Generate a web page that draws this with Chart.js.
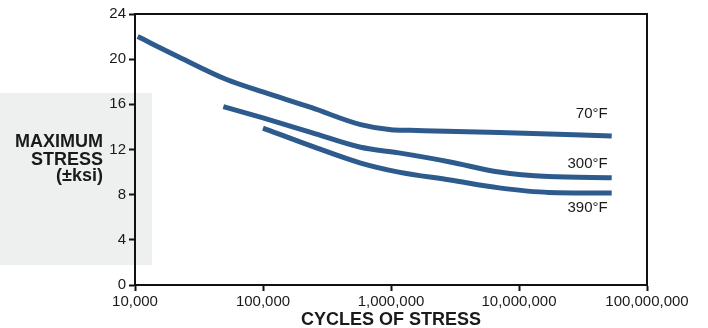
<!DOCTYPE html>
<html>
<head>
<meta charset="utf-8">
<script src="https://cdn.jsdelivr.net/npm/chart.js@4"></script>
<style>
  html, body { margin: 0; padding: 0; background: #fff; }
  #wrap { width: 708px; height: 328px; }
</style>
</head>
<body>
<div id="wrap"><canvas id="fatigue-chart" width="708" height="328"></canvas></div>
<script>
// cycles of stress (x) and maximum stress in ksi (y)
const cycles70 = [10500, 22000, 52000, 100000, 240000, 580000, 1000000, 1400000, 7000000, 53000000];
const stress70 = [22.0, 20.2, 18.2, 17.1, 15.7, 14.2, 13.75, 13.7, 13.5, 13.2];

const cycles300 = [49000, 100000, 240000, 580000, 1150000, 2900000, 7000000, 17000000, 53000000];
const stress300 = [15.8, 14.8, 13.5, 12.2, 11.7, 10.9, 10.0, 9.6, 9.5];

const cycles390 = [100000, 240000, 580000, 1150000, 2900000, 7000000, 17000000, 53000000];
const stress390 = [13.9, 12.3, 10.8, 10.0, 9.3, 8.6, 8.2, 8.15];

const seriesLabels = ['70°F', '300°F', '390°F'];
const xTicks = [10000, 100000, 1000000, 10000000, 100000000];
const yTicks = [0, 4, 8, 12, 16, 20, 24];
const yTitle = ['MAXIMUM', 'STRESS', '(±ksi)'];
const xTitle = 'CYCLES OF STRESS';

const lineColor = '#2e5b8d';
const inkColor = '#1a1a1a';

function toPoints(xs, ys) {
    return xs.map((x, i) => ({ x: x, y: ys[i] }));
}

function makeSet(label, xs, ys) {
    return {
        label: label,
        data: toPoints(xs, ys),
        borderColor: lineColor,
        borderWidth: 5,
        borderCapStyle: 'butt',
        pointRadius: 0,
        fill: false,
        cubicInterpolationMode: 'monotone'
    };
}

// grey panel behind the y title, and top/right frame lines
const decorPlugin = {
    id: 'decor',
    beforeDraw(chart) {
        const ctx = chart.ctx;
        ctx.save();
        ctx.fillStyle = '#eef0ef';
        ctx.fillRect(0, 93, 152, 172);
        ctx.restore();
    },
    afterDraw(chart) {
        const ctx = chart.ctx;
        const a = chart.chartArea;
        ctx.save();
        ctx.strokeStyle = '#111';
        ctx.lineWidth = 2;
        ctx.beginPath();
        ctx.moveTo(a.left, a.top);
        ctx.lineTo(a.right, a.top);
        ctx.lineTo(a.right, a.bottom);
        ctx.stroke();

        // y axis title, right aligned, not rotated
        ctx.fillStyle = inkColor;
        ctx.font = 'bold 18px "Liberation Sans", Arial, sans-serif';
        ctx.textAlign = 'right';
        ctx.textBaseline = 'middle';
        const centers = [142, 160, 176];
        yTitle.forEach((t, i) => ctx.fillText(t, 103, centers[i]));

        // temperature labels next to the end of each curve
        ctx.font = '15px "Liberation Sans", Arial, sans-serif';
        const offsets = [-22, -14, 15];
        chart.data.datasets.forEach((ds, i) => {
            const pts = chart.getDatasetMeta(i).data;
            const last = pts[pts.length - 1];
            ctx.fillText(seriesLabels[i], last.x - 4, last.y + offsets[i]);
        });
        ctx.restore();
    }
};

new Chart(document.getElementById('fatigue-chart'), {
    type: 'line',
    data: {
        datasets: [
            makeSet(seriesLabels[0], cycles70, stress70),
            makeSet(seriesLabels[1], cycles300, stress300),
            makeSet(seriesLabels[2], cycles390, stress390)
        ]
    },
    options: {
        responsive: false,
        animation: false,
        layout: { padding: { left: 0, right: 61, top: 14, bottom: 0 } },
        plugins: {
            legend: { display: false },
            tooltip: { enabled: false }
        },
        scales: {
            x: {
                type: 'logarithmic',
                min: xTicks[0],
                max: xTicks[xTicks.length - 1],
                afterBuildTicks: scale => {
                    scale.ticks = xTicks.map(v => ({ value: v }));
                },
                afterFit: scale => { scale.height = 43; },
                grid: { drawOnChartArea: false, drawTicks: true, tickLength: 6, tickWidth: 2, color: '#111' },
                border: { display: true, color: '#111', width: 2 },
                ticks: {
                    autoSkip: false,
                    maxRotation: 0,
                    padding: 2,
                    color: inkColor,
                    font: { family: '"Liberation Sans", Arial, sans-serif', size: 15 },
                    callback: v => Number(v).toLocaleString('en-US')
                },
                title: {
                    display: true,
                    text: xTitle,
                    color: inkColor,
                    padding: { top: 0, bottom: -3 },
                    font: { family: '"Liberation Sans", Arial, sans-serif', size: 18, weight: 'bold' }
                }
            },
            y: {
                min: yTicks[0],
                max: yTicks[yTicks.length - 1],
                afterBuildTicks: scale => {
                    scale.ticks = yTicks.map(v => ({ value: v }));
                },
                afterFit: scale => { scale.width = 135; },
                grid: { drawOnChartArea: false, drawTicks: true, tickLength: 6, tickWidth: 2, color: '#111' },
                border: { display: true, color: '#111', width: 2 },
                ticks: {
                    padding: 3,
                    color: inkColor,
                    font: { family: '"Liberation Sans", Arial, sans-serif', size: 15 }
                }
            }
        }
    },
    plugins: [decorPlugin]
});
</script>
</body>
</html>
